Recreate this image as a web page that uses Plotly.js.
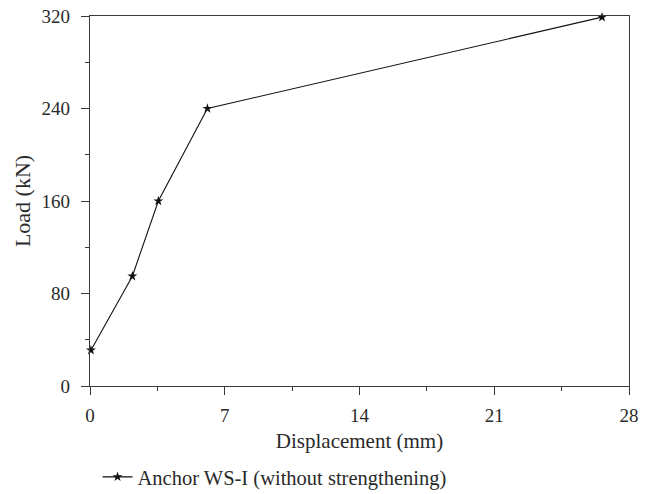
<!DOCTYPE html>
<html><head><meta charset="utf-8">
<script src="https://cdn.plot.ly/plotly-3.0.1.min.js"></script>
<style>body{margin:0;background:#fff}#c{width:651px;height:494px}</style>
</head><body><div id="c"></div>
<script>
const displacement = [0.05, 2.2, 3.55, 6.1, 26.6];
const load = [31, 95, 160, 240, 319];
const seriesName = 'Anchor WS-I (without strengthening)';
const xTicks = [0, 7, 14, 21, 28];
const yTicks = [0, 80, 160, 240, 320];

const FAM = 'Liberation Serif, Times New Roman, serif';
const tickFont = {family: FAM, size: 19, color: '#2a2a2a'};
const axisCommon = {
  showgrid: false, zeroline: false, showline: true, linecolor: '#3a3a3a', linewidth: 1.4,
  mirror: true, ticks: 'outside', ticklen: 8, tickwidth: 1.3, tickcolor: '#3a3a3a',
  tickfont: tickFont, automargin: true
};
Plotly.newPlot('c', [{
  x: displacement, y: load, name: seriesName, type: 'scatter', mode: 'lines+markers',
  line: {color: '#111', width: 1.1},
  marker: {symbol: 'star', size: 7.5, color: '#111'},
  cliponaxis: false
}], {
  width: 651, height: 494,
  margin: {l: 90, r: 22, t: 16, b: 108, autoexpand: false},
  paper_bgcolor: '#fff', plot_bgcolor: '#fff',
  font: {family: FAM, size: 19, color: '#2a2a2a'},
  showlegend: true,
  legend: {orientation: 'h', x: 0.014, xanchor: 'left', y: -0.246, yanchor: 'middle',
           font: {family: FAM, size: 20.5, color: '#2a2a2a'}, bgcolor: 'rgba(0,0,0,0)'},
  xaxis: Object.assign({}, axisCommon, {
    range: [0, 28], tickvals: xTicks, ticktext: xTicks.map(String), ticklabelstandoff: 4,
    minor: {dtick: 3.5, ticklen: 4, ticks: 'outside', tickcolor: '#3a3a3a'},
    title: {text: 'Displacement (mm)', font: {family: FAM, size: 21, color: '#2a2a2a'}, standoff: 8}
  }),
  yaxis: Object.assign({}, axisCommon, {
    range: [0, 320], tickvals: yTicks, ticktext: yTicks.map(String), ticklabelstandoff: 7,
    minor: {dtick: 40, ticklen: 4, ticks: 'outside', tickcolor: '#3a3a3a'},
    title: {text: 'Load (kN)', font: {family: FAM, size: 22, color: '#2a2a2a'}, standoff: 4}
  })
}, {displayModeBar: false});
</script></body></html>
